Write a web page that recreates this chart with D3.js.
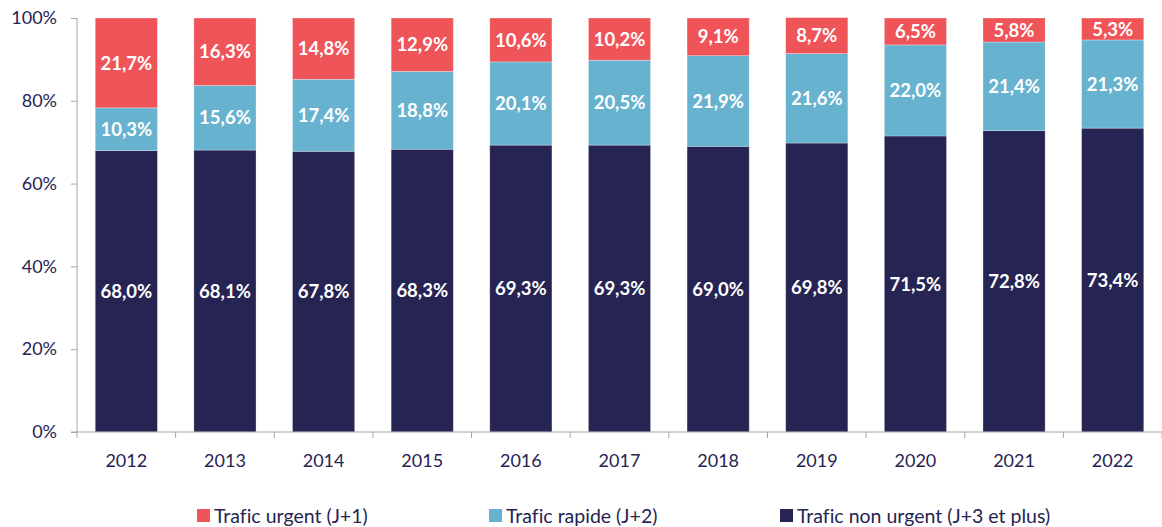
<!DOCTYPE html>
<html>
<head>
<meta charset="utf-8">
<script src="https://cdn.jsdelivr.net/npm/d3@7"></script>
<style>
  body { margin: 0; background: #fff; }
  svg text { font-family: Lato, "Open Sans", sans-serif; }
</style>
</head>
<body>
<div id="chart"></div>
<script>
// years and shares (percent)
var years = ["2012", "2013", "2014", "2015", "2016", "2017", "2018", "2019", "2020", "2021", "2022"];
var nonUrgent = [68.0, 68.1, 67.8, 68.3, 69.3, 69.3, 69.0, 69.8, 71.5, 72.8, 73.4];
var rapide = [10.3, 15.6, 17.4, 18.8, 20.1, 20.5, 21.9, 21.6, 22.0, 21.4, 21.3];
var urgent = [21.7, 16.3, 14.8, 12.9, 10.6, 10.2, 9.1, 8.7, 6.5, 5.8, 5.3];
var yTicks = [0, 20, 40, 60, 80, 100];

var seriesNames = ["Trafic non urgent (J+3 et plus)", "Trafic rapide (J+2)", "Trafic urgent (J+1)"];
var seriesColors = ["#262453", "#67B3CF", "#EF5459"];
var legendOrder = [2, 1, 0];

var WIDTH = 1162;
var HEIGHT = 527;
var TEXT_COLOR = "#262453";

var svg = d3.select("#chart").append("svg")
	.attr("width", WIDTH)
	.attr("height", HEIGHT);

var x = d3.scaleBand()
	.domain(years)
	.range([77, 1162])
	.paddingInner(0.37)
	.paddingOuter(0.185);

var y = d3.scaleLinear()
	.domain([0, 100])
	.range([432, 18]);

// build stacked rows
var rows = years.map(function(yr, i) {
	return { year: yr, s0: nonUrgent[i], s1: rapide[i], s2: urgent[i] };
});
var stack = d3.stack().keys(["s0", "s1", "s2"]);
var layers = stack(rows);

var layerG = svg.selectAll("g.layer")
	.data(layers)
	.enter()
	.append("g")
	.attr("class", "layer")
	.attr("fill", function(d, i) { return seriesColors[i]; });

layerG.selectAll("rect")
	.data(function(d) { return d; })
	.enter()
	.append("rect")
	.attr("x", function(d) { return x(d.data.year); })
	.attr("width", x.bandwidth())
	.attr("y", function(d) { return y(d[1]); })
	.attr("height", function(d) { return y(d[0]) - y(d[1]); })
	.attr("stroke", "#ffffff")
	.attr("stroke-opacity", 0.35)
	.attr("stroke-width", 0.8);

layerG.selectAll("text")
	.data(function(d) { return d; })
	.enter()
	.append("text")
	.attr("x", function(d) { return x(d.data.year) + x.bandwidth() / 2; })
	.attr("y", function(d) { return (y(d[0]) + y(d[1])) / 2; })
	.attr("dy", "0.36em")
	.attr("text-anchor", "middle")
	.attr("fill", "#ffffff")
	.attr("font-weight", "bold")
	.attr("font-size", "18.5px")
	.text(function(d) { return (d[1] - d[0]).toFixed(1).replace(".", ",") + "%"; });

// y axis
var yAxis = d3.axisLeft(y)
	.tickValues(yTicks)
	.tickFormat(function(d) { return d + "%"; })
	.tickSize(6)
	.tickPadding(14);

var yG = svg.append("g")
	.attr("transform", "translate(77,0)")
	.call(yAxis);
yG.select(".domain").attr("stroke", "#a6a6a6").attr("d", "M0,18V432");
yG.selectAll(".tick line").attr("stroke", "#a6a6a6");
yG.selectAll(".tick text")
	.attr("fill", TEXT_COLOR)
	.attr("font-size", "18px")
	.style("font-family", "Lato, sans-serif");

// x axis baseline with boundary ticks
var xG = svg.append("g").attr("class", "x-axis");
xG.append("line")
	.attr("x1", 71).attr("x2", 1162)
	.attr("y1", y(0)).attr("y2", y(0))
	.attr("stroke", "#a6a6a6");
var step = x.step();
var bounds = d3.range(years.length + 1).map(function(i) { return 77 + i * step; });
xG.selectAll("line.tk")
	.data(bounds)
	.enter()
	.append("line")
	.attr("class", "tk")
	.attr("x1", function(d) { return d; })
	.attr("x2", function(d) { return d; })
	.attr("y1", y(0))
	.attr("y2", y(0) + 6)
	.attr("stroke", "#a6a6a6");
xG.selectAll("text")
	.data(years)
	.enter()
	.append("text")
	.attr("x", function(d) { return x(d) + x.bandwidth() / 2; })
	.attr("y", 467)
	.attr("text-anchor", "middle")
	.attr("fill", TEXT_COLOR)
	.attr("font-size", "18px")
	.text(function(d) { return d; });

// legend
var legendX = [197, 489, 780];
var legend = svg.selectAll("g.legend")
	.data(legendOrder)
	.enter()
	.append("g")
	.attr("class", "legend")
	.attr("transform", function(d, i) { return "translate(" + legendX[i] + ",509)"; });
legend.append("rect")
	.attr("width", 13)
	.attr("height", 13)
	.attr("fill", function(d) { return seriesColors[d]; });
legend.append("text")
	.attr("x", 17)
	.attr("y", 7)
	.attr("dy", "0.36em")
	.attr("fill", TEXT_COLOR)
	.attr("font-size", "19.5px")
	.style("font-variant-ligatures", "none")
	.text(function(d) { return seriesNames[d]; });
</script>
</body>
</html>
